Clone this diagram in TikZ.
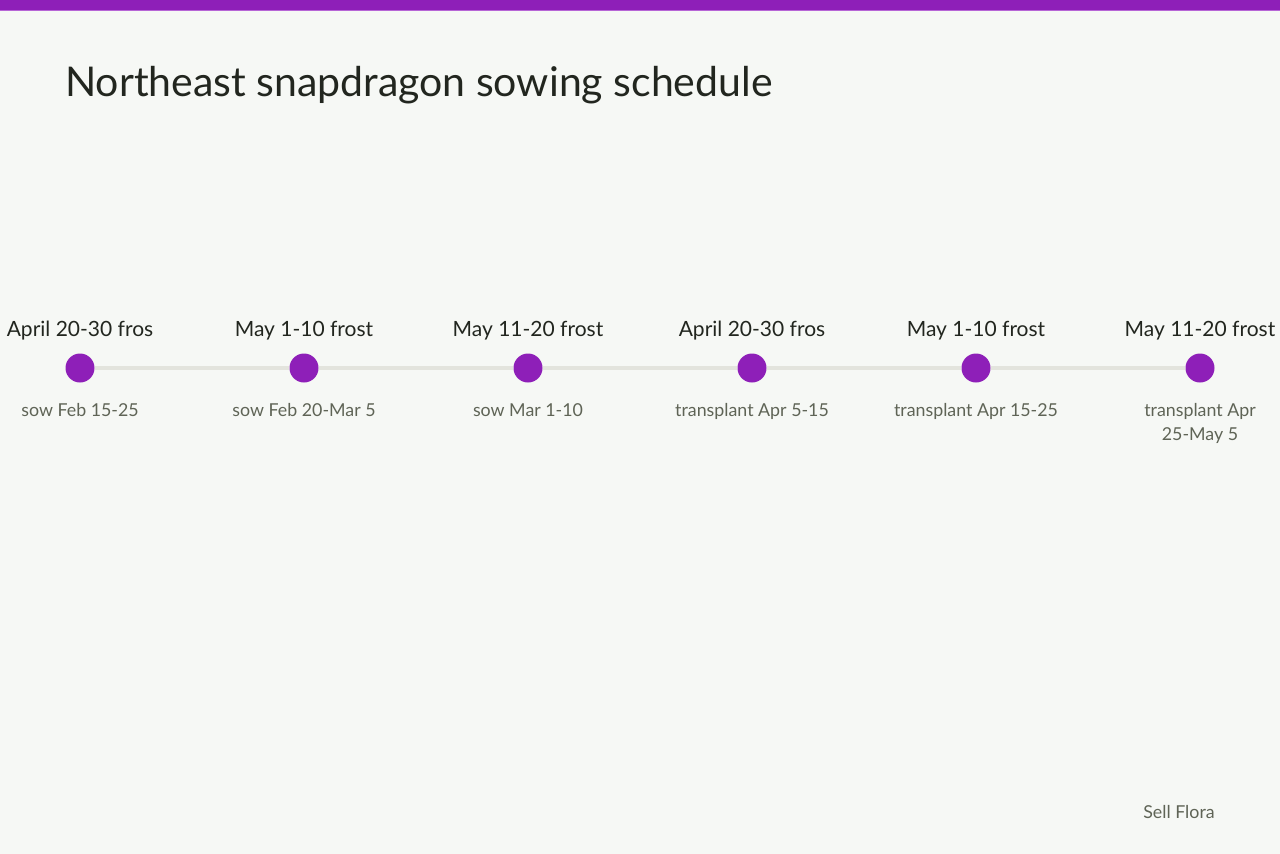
\documentclass[tikz,border=0pt]{standalone}
\usepackage{fontspec}
\setmainfont{Lato}
\usepackage{tikz}
\usetikzlibrary{calc}
\definecolor{bg}{HTML}{F6F8F5}
\definecolor{accent}{HTML}{8E1FB8}
\definecolor{accentlt}{HTML}{B766D6}
\definecolor{ink}{HTML}{22261F}
\definecolor{muted}{HTML}{5F6456}
\definecolor{track}{HTML}{E3E4DD}
\tikzset{
  track/.style={draw=track, line width=4pt},
  dot/.style={circle, fill=accent, minimum size=29pt, inner sep=0pt},
  toplbl/.style={text=ink, font=\fontsize{21}{25}\selectfont, anchor=base},
  botlbl/.style={text=muted, font=\fontsize{17.8}{24}\selectfont, anchor=base, align=center},
  title/.style={text=ink, font=\fontsize{41}{50}\selectfont, anchor=base west, inner sep=0pt}
}

\begin{document}
\begin{tikzpicture}[x=1pt, y=-1pt]
  % page and top bar
  \fill[bg] (0,0) rectangle (1280,854);
  \useasboundingbox (0,0) rectangle (1280,854);
  \fill[accent] (0,0) rectangle (1280,10);
  \draw[accentlt, line width=1pt] (0,10) -- (1280,10);

  \node[title] (title) at (65,96) {Northeast snapdragon sowing schedule};

  % milestones (base anchor of a two-line label sits on its last line)
  \foreach \i/\x/\by/\top/\bot in {
      1/80/416/{April 20-30 fros}/{sow Feb 15-25},
      2/304/416/{May 1-10 frost}/{sow Feb 20-Mar 5},
      3/528/416/{May 11-20 frost}/{sow Mar 1-10},
      4/752/416/{April 20-30 fros}/{transplant Apr 5-15},
      5/976/416/{May 1-10 frost}/{transplant Apr 15-25},
      6/1200/440/{May 11-20 frost}/{transplant Apr\\25-May 5}} {
    \node[dot] (d\i) at (\x,368) {};
    \node[toplbl] (t\i) at (\x,336) {\top};
    \node[botlbl] (b\i) at (\x,\by) {\bot};
  }

  % track between the dots
  \foreach \i [evaluate=\i as \j using int(\i+1)] in {1,...,5}
    \draw[track] (d\i) -- (d\j);

  \node[text=muted, font=\fontsize{17.8}{21}\selectfont, anchor=base] (src) at (1179,818) {Sell Flora};
\end{tikzpicture}
\end{document}
